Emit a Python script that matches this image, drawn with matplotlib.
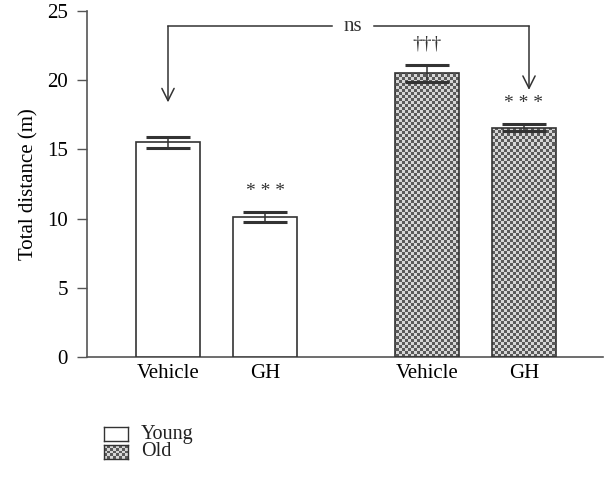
import matplotlib
matplotlib.use('Agg')
import matplotlib.pyplot as plt
import numpy as np

plt.rcParams['font.family'] = ['Liberation Serif', 'DejaVu Serif']

# data
groups = ['Young', 'Old']
labels = ['Vehicle', 'GH', 'Vehicle', 'GH']
values = [15.5, 10.1, 20.5, 16.55]
errors = [0.43, 0.38, 0.6, 0.25]
marks = ['', '* * *', '\u2020\u2020\u2020', '* * *']
positions = [168, 265, 427, 524]

edge = '#333333'
light, dark = '#d6d6d6', '#5a5a5a'


def checker(nx, ny):
    # fill texture for the "Old" bars, one cell per square
    yy, xx = np.mgrid[0:ny, 0:nx]
    return ((xx + yy) % 2).astype(float)


fig = plt.figure(figsize=(6.06, 4.79), dpi=100)
ax = fig.add_axes([87 / 606, 122 / 479, 516 / 606, 346 / 479])
ax.set_xlim(87, 603)
ax.set_ylim(0, 25)
cmap = matplotlib.colors.ListedColormap([light, dark])

width = 64
for i, (x, v, e) in enumerate(zip(positions, values, errors)):
    bar = ax.bar(x, v, width, facecolor='white', edgecolor=edge,
                 linewidth=1.2, zorder=3)[0]
    if i >= 2:
        bar.set_facecolor('none')
        tex = ax.imshow(checker(516 // 3, 346 // 3), cmap=cmap,
                        interpolation='nearest',
                        extent=[87, 603, 0, 25], aspect='auto', zorder=2)
        tex.set_clip_path(bar)
    ax.errorbar(x, v, yerr=e, color=edge, capsize=16, capthick=2.2,
                elinewidth=1.1, zorder=4)
    if marks[i]:
        ax.text(x, v + e + 0.9, marks[i], ha='center', va='bottom',
                fontsize=14, color=edge)

# bracket with arrows and "ns"
y_br = 23.9
ax.plot([positions[0], 332], [y_br, y_br], color=edge, lw=1.1)
ax.plot([374, positions[3] + 5], [y_br, y_br], color=edge, lw=1.1)
ax.text(353, y_br, 'ns', ha='center', va='center', fontsize=15, color=edge)
ax.annotate('', xy=(positions[0], 18.4), xytext=(positions[0], y_br),
            arrowprops=dict(arrowstyle='->', color=edge, lw=1.1,
                            shrinkA=0, shrinkB=0, mutation_scale=22))
ax.annotate('', xy=(positions[3] + 5, 19.3), xytext=(positions[3] + 5, y_br),
            arrowprops=dict(arrowstyle='->', color=edge, lw=1.1,
                            shrinkA=0, shrinkB=0, mutation_scale=22))

ax.set_yticks([0, 5, 10, 15, 20, 25])
ax.set_xticks(positions)
ax.set_xticklabels(labels)
ax.tick_params(axis='x', length=0, labelsize=15, pad=5)
ax.tick_params(axis='y', length=7.2, width=1, color='#555555', labelsize=15,
               pad=6.5)
ax.set_ylabel('Total distance (m)', fontsize=15, labelpad=6)
for s in ['top', 'right']:
    ax.spines[s].set_visible(False)
for s in ['left', 'bottom']:
    ax.spines[s].set_color('#555555')
    ax.spines[s].set_linewidth(1.2)

# legend drawn as two swatches with labels
for k, (name, y0) in enumerate(zip(groups, [427, 445])):
    sw = fig.add_axes([104 / 606, 1 - (y0 + 14) / 479, 24 / 606, 14 / 479])
    if k == 0:
        sw.set_facecolor('white')
    else:
        sw.imshow(checker(8, 5), cmap=cmap, interpolation='nearest',
                  aspect='auto')
    sw.set_xticks([])
    sw.set_yticks([])
    for sp in sw.spines.values():
        sp.set_color(edge)
        sp.set_linewidth(1.0)
    fig.text(141 / 606, 1 - (y0 + 7) / 479, name, ha='left', va='center',
             fontsize=14.5, color='#222222')

fig.savefig('out.png', dpi=100)
